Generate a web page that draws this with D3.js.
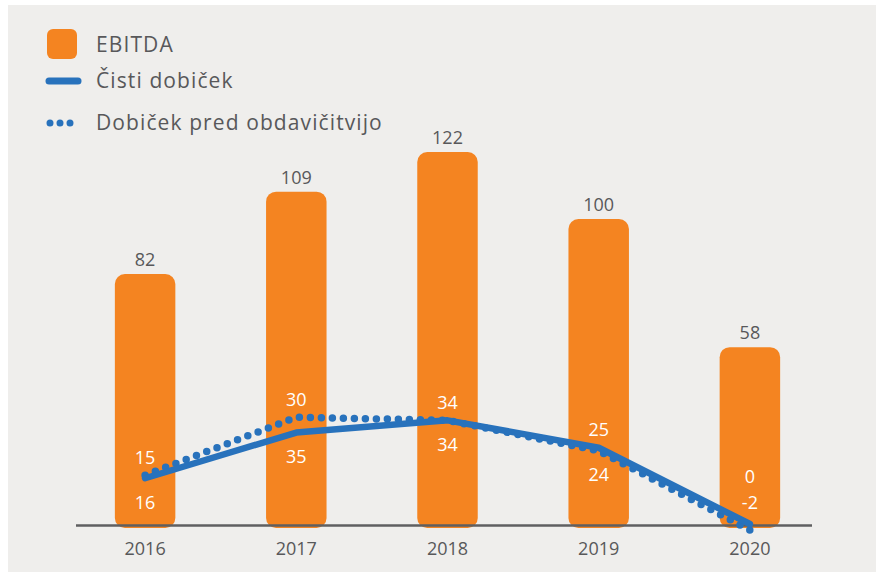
<!DOCTYPE html>
<html>
<head>
<meta charset="utf-8">
<script src="https://cdn.jsdelivr.net/npm/d3@7"></script>
<style>
  body { margin: 0; background: #fff; }
  svg { display: block; }
</style>
</head>
<body>
<script>
// Chart data
const years = ["2016", "2017", "2018", "2019", "2020"];
const ebitda = [82, 109, 122, 100, 58];
const netProfit = [15, 30, 34, 25, 0];     // Čisti dobiček
const preTaxProfit = [16, 35, 34, 24, -2]; // Dobiček pred obdavičitvijo
const legendLabels = ["EBITDA", "Čisti dobiček", "Dobiček pred obdavičitvijo"];

const W = 876, H = 572;
const orange = "#f48421", blue = "#2872bc", textGray = "#58585a";
const font = "'Open Sans', sans-serif";

const svg = d3.select("body").append("svg")
  .attr("width", W)
  .attr("height", H);

// Light gray panel
svg.append("rect")
  .attr("x", 8).attr("y", 5)
  .attr("width", W - 8).attr("height", H - 5)
  .attr("fill", "#efeeec");

// Scales
const x = d3.scaleBand()
  .domain(years)
  .range([69.5, 825.5])
  .paddingInner(0.6)
  .paddingOuter(0.3);

const baseY = 524;
// bars and lines share one value scale
const y = d3.scaleLinear().domain([0, 122]).range([baseY, 152]);

const cx = d => x(d) + x.bandwidth() / 2;

// Bars (rounded all round)
svg.selectAll(".bar")
  .data(years)
  .enter()
  .append("rect")
  .attr("class", "bar")
  .attr("x", d => x(d))
  .attr("y", (d, i) => y(ebitda[i]))
  .attr("width", x.bandwidth())
  .attr("height", (d, i) => baseY - y(ebitda[i]) + 4)
  .attr("rx", 10)
  .attr("fill", orange);

// Axis line
svg.append("line")
  .attr("x1", 76).attr("x2", 812)
  .attr("y1", baseY + 1.5).attr("y2", baseY + 1.5)
  .attr("stroke", "#5f5f61")
  .attr("stroke-width", 2.5);

// Bar value labels
svg.selectAll(".bar-label")
  .data(years)
  .enter()
  .append("text")
  .attr("x", cx)
  .attr("y", (d, i) => y(ebitda[i]) - 8)
  .attr("text-anchor", "middle")
  .attr("fill", textGray)
  .style("font-family", font)
  .style("font-size", "18px")
  .text((d, i) => ebitda[i]);

// Year labels
svg.selectAll(".year")
  .data(years)
  .enter()
  .append("text")
  .attr("x", cx)
  .attr("y", baseY + 31)
  .attr("text-anchor", "middle")
  .attr("fill", textGray)
  .style("font-family", font)
  .style("font-size", "18px")
  .text(d => d);

// Lines
const lineGen = d3.line()
  .x((d, i) => cx(years[i]))
  .y(d => y(d));

svg.append("path")
  .datum(preTaxProfit)
  .attr("d", lineGen)
  .attr("fill", "none")
  .attr("stroke", blue)
  .attr("stroke-width", 7.5)
  .attr("stroke-linecap", "round")
  .attr("stroke-dasharray", "0 11");

svg.append("path")
  .datum(netProfit)
  .attr("d", lineGen)
  .attr("fill", "none")
  .attr("stroke", blue)
  .attr("stroke-width", 6.5)
  .attr("stroke-linecap", "round")
  .attr("stroke-linejoin", "round");

// Line value labels (white, inside bars)
years.forEach((yr, i) => {
  const a = y(netProfit[i]), b = y(preTaxProfit[i]);
  const below = Math.min(Math.max(a, b) + 24, baseY - 21);
  const above = Math.min(Math.min(a, b) - 18, below - 26);
  [[netProfit[i], above], [preTaxProfit[i], below]].forEach(([v, ty]) => {
    svg.append("text")
      .attr("x", cx(yr))
      .attr("y", ty)
      .attr("dy", "0.35em")
      .attr("text-anchor", "middle")
      .attr("fill", "#fff")
      .style("font-family", font)
      .style("font-size", "18px")
      .text(v);
  });
});

// Legend
const legend = svg.append("g");
legend.append("rect")
  .attr("x", 47).attr("y", 29)
  .attr("width", 30).attr("height", 30)
  .attr("rx", 6)
  .attr("fill", orange);
legend.append("line")
  .attr("x1", 49).attr("x2", 78)
  .attr("y1", 81).attr("y2", 81)
  .attr("stroke", blue)
  .attr("stroke-width", 7)
  .attr("stroke-linecap", "round");
legend.append("line")
  .attr("x1", 50).attr("x2", 80)
  .attr("y1", 123).attr("y2", 123)
  .attr("stroke", blue)
  .attr("stroke-width", 7)
  .attr("stroke-linecap", "round")
  .attr("stroke-dasharray", "0 10");

legend.selectAll(".leg-text")
  .data(legendLabels)
  .enter()
  .append("text")
  .attr("x", 96)
  .attr("y", (d, i) => [45, 81, 123][i])
  .attr("dy", "0.35em")
  .attr("fill", textGray)
  .style("font-family", font)
  .style("font-size", "21px")
  .style("letter-spacing", "1.1px")
  .text(d => d);
</script>
</body>
</html>
